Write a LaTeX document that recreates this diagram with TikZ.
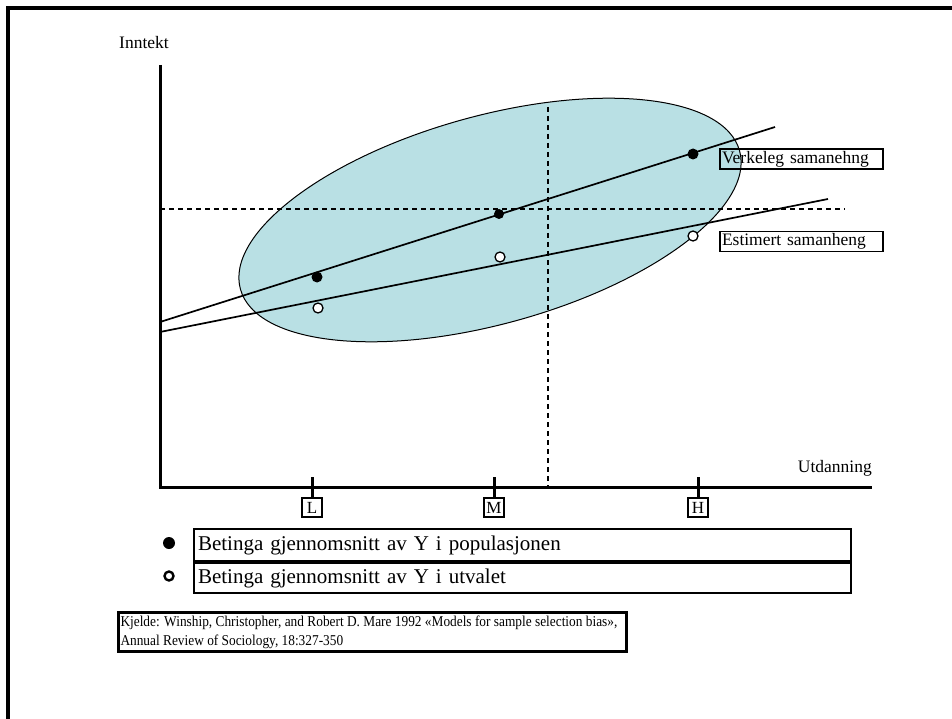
\documentclass[tikz,border=0pt]{standalone}
\usepackage{fontspec}
\setmainfont{Liberation Serif}
\newfontfamily\narrowserif[FakeStretch=0.89]{Liberation Serif}
\usetikzlibrary{positioning}
\definecolor{cloudfill}{RGB}{185,224,228}

\tikzset{
  axis/.style={line width=3pt},
  guide/.style={dash pattern=on 5pt off 4pt, line width=1.3pt},
  trend/.style={line width=1.7pt},
  lbl/.style={inner sep=0pt, font=\fontsize{17.5}{17.5}\selectfont},
  tickbox/.style={draw, line width=2.5pt, inner sep=0pt, minimum width=20pt,
    minimum height=19pt, font=\fontsize{17}{17}\selectfont},
  namebox/.style={draw, line width=1.3pt, inner xsep=2pt, inner ysep=0pt,
    text width=159pt, minimum height=20pt, align=left,
    font=\fontsize{17.5}{17.5}\selectfont},
  keyrow/.style={draw, line width=2pt, inner xsep=4pt, inner ysep=0pt,
    text width=649pt, align=left, anchor=north west,
    font=\fontsize{21}{21}\selectfont},
  popdot/.style={circle, fill=black, inner sep=0pt, minimum size=11pt},
  smpdot/.style={circle, draw, line width=1.3pt, fill=white, inner sep=0pt,
    minimum size=10pt},
}

\begin{document}
\begin{tikzpicture}[x=1pt, y=-1pt]
  \useasboundingbox (0,0) rectangle (952,719);
  \draw[line width=3.2pt] (8,719) -- (8,8) -- (952,8);

  % the cloud of observations
  \draw[fill=cloudfill, line width=1pt, rotate around={15.5:(490,220)}]
    (490,220) ellipse [x radius=259, y radius=104];

  % axes
  \coordinate (origin) at (160,487);
  \coordinate (ytop) at (160,65);
  \coordinate (xend) at (872,487);
  \draw[axis] (ytop) -- (origin) -- (xend);
  \node[lbl] (inntekt) at (144,43) {Inntekt};
  \node[lbl, anchor=base east] (utdanning) at (872,472) {Utdanning};

  \foreach \name/\x in {L/312, M/494, H/698} {
    \coordinate (\name top) at (\x,477);
    \node[tickbox] (\name) at (\x,507.5) {\name};
    \draw[axis] (\name top) -- (\name.north);
  }

  % selection thresholds
  \coordinate (cuttop) at (548,107);
  \coordinate (cutbot) at (548,487);
  \coordinate (levleft) at (160,209);
  \coordinate (levright) at (845,209);
  \draw[guide] (cuttop) -- (cutbot);
  \draw[guide] (levleft) -- (levright);

  % regression lines
  \coordinate (truestart) at (160,322);
  \coordinate (trueend) at (775,127);
  \coordinate (eststart) at (160,332);
  \coordinate (estend) at (828,199);
  \draw[trend] (truestart) -- (trueend);
  \draw[trend] (eststart) -- (estend);

  \node[popdot] (popL) at (317,277) {};
  \node[popdot, minimum size=10pt] (popM) at (499,214) {};
  \node[popdot] (popH) at (693,154) {};
  \node[smpdot] (smpL) at (318,308) {};
  \node[smpdot] (smpM) at (500,257) {};
  \node[smpdot] (smpH) at (693,236) {};

  \node[namebox] (verkeleg) at (801.5,159) {Verkeleg samanehng};
  \node[namebox] (estimert) at (801.5,241.5) {Estimert samanheng};

  % legend
  \node[keyrow, minimum height=32pt] (popkey) at (193,528)
    {Betinga gjennomsnitt av Y i populasjonen};
  \node[keyrow, minimum height=30pt] (smpkey) at (popkey.south west)
    {Betinga gjennomsnitt av Y i utvalet};
  \node[popdot, minimum size=12pt] (popmark) at (169,543) {};
  \node[smpdot, line width=2.4pt, minimum size=9pt] (smpmark) at (169,576) {};

  % source
  \node[draw, line width=3pt, anchor=north west, inner xsep=2pt, inner ysep=3pt,
    align=left, font=\narrowserif\fontsize{15}{19}\selectfont]
    (kjelde) at (117,611)
    {\makebox[504pt][l]{Kjelde: Winship, Christopher, and Robert D. Mare 1992 «Models for sample selection bias»,}\\
     \makebox[504pt][l]{Annual Review of Sociology, 18:327-350}};
\end{tikzpicture}
\end{document}
